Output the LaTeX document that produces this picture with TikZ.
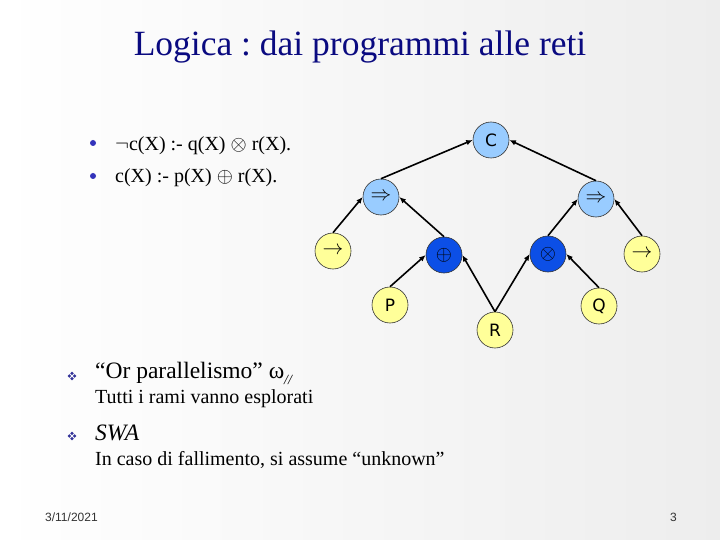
\documentclass[tikz,border=0pt]{standalone}
\usepackage{fontspec}
\setmainfont{Liberation Serif}
\newfontfamily\nodefont{DejaVu Sans}
\newfontfamily\footfont{Liberation Sans}
\usetikzlibrary{arrows.meta}
\frenchspacing
\definecolor{titleblue}{HTML}{0A0A80}
\definecolor{lightblue}{HTML}{99CCFF}
\definecolor{darkblue}{HTML}{0C4FE6}
\definecolor{paleyellow}{HTML}{FFFF99}
\definecolor{bulletblue}{HTML}{3333BB}
\definecolor{diamblue}{HTML}{333399}
\begin{document}
\begin{tikzpicture}[x=1pt,y=-1pt,
  tnode/.style={circle,draw=black!80,line width=0.6pt,minimum size=36pt,inner sep=0pt,font=\nodefont\fontsize{17}{17}\selectfont},
  symnode/.style={font=\fontsize{22}{22}\selectfont},
  upper/.style={tnode,fill=lightblue},
  mid/.style={tnode,fill=darkblue},
  leaf/.style={tnode,fill=paleyellow},
  arr/.style={line width=1.6pt,-{Latex[length=6.5pt,width=5.5pt]}},
  txt/.style={anchor=west,inner sep=0pt},
  diam/.style={fill=diamblue}
]
\shade[left color=white,right color=black!7] (0,0) rectangle (720,540);
\useasboundingbox (0,0) rectangle (720,540);

% title
\node[text=titleblue,font=\fontsize{35.5}{38}\selectfont] (title) at (360,47) {Logica : dai programmi alle reti};

% round bullets
\fill[bulletblue] (93,143) circle (3pt);
\fill[bulletblue] (93,176) circle (3pt);
\node[txt,font=\fontsize{20}{22}\selectfont] (b1) at (115,146) {$\neg$c(X) :- q(X) $\otimes$ r(X).};
\node[txt,font=\fontsize{20}{22}\selectfont] (b2) at (115,178) {c(X) :- p(X) $\oplus$ r(X).};

% tree
\node[upper] (C) at (491,140) {C};
\node[upper,symnode] (UL) at (381,197) {$\Rightarrow$};
\node[upper,symnode] (UR) at (596,199) {$\Rightarrow$};
\node[leaf,symnode] (AL) at (333,251) {$\rightarrow$};
\node[mid,symnode] (OP) at (444,255) {$\oplus$};
\node[mid,symnode] (OT) at (548,254) {$\otimes$};
\node[leaf,symnode] (AR) at (642,254) {$\rightarrow$};
\node[leaf] (P) at (390,305) {P};
\node[leaf] (R) at (495,330) {R};
\node[leaf] (Q) at (599,306) {Q};

\draw[arr] (UL.north) -- (C.west);
\draw[arr] (UR.north) -- (C.east);
\draw[arr] (AL.north) -- (UL.west);
\draw[arr] (OP.north) -- (UL.east);
\draw[arr] (OT.north) -- (UR.west);
\draw[arr] (AR.north) -- (UR.east);
\draw[arr] (P.north) -- (OP.west);
\draw[arr] (R.north) -- (OP.east);
\draw[arr] (R.north) -- (OT.west);
\draw[arr] (Q.north) -- (OT.east);

% diamond bullets
\foreach \cy in {376,436}{
  \foreach \dx/\dy in {-2.6/0,2.6/0,0/-2.6,0/2.6}{
    \fill[diam] (72+\dx-1.8,\cy+\dy) -- (72+\dx,\cy+\dy-1.8) -- (72+\dx+1.8,\cy+\dy) -- (72+\dx,\cy+\dy+1.8) -- cycle;
  }
}
\node[txt,font=\fontsize{23.5}{25}\selectfont] (s1) at (95,373) {``Or parallelismo'' ω\raisebox{-6pt}{\fontsize{14}{14}\selectfont\itshape //}};
\node[txt,font=\fontsize{20}{22}\selectfont] (s1b) at (95,399) {Tutti i rami vanno esplorati};
\node[txt,font=\fontsize{23.5}{25}\selectfont\itshape] (s2) at (95,433) {SWA};
\node[txt,font=\fontsize{20}{22}\selectfont] (s2b) at (95,460) {In caso di fallimento, si assume ``unknown''};

% footer
\node[txt,font=\footfont\fontsize{12}{12}\selectfont,text=black!80] (date) at (45,517) {3/11/2021};
\node[txt,font=\footfont\fontsize{12}{12}\selectfont,text=black!80] (page) at (670,517) {3};
\end{tikzpicture}
\end{document}
